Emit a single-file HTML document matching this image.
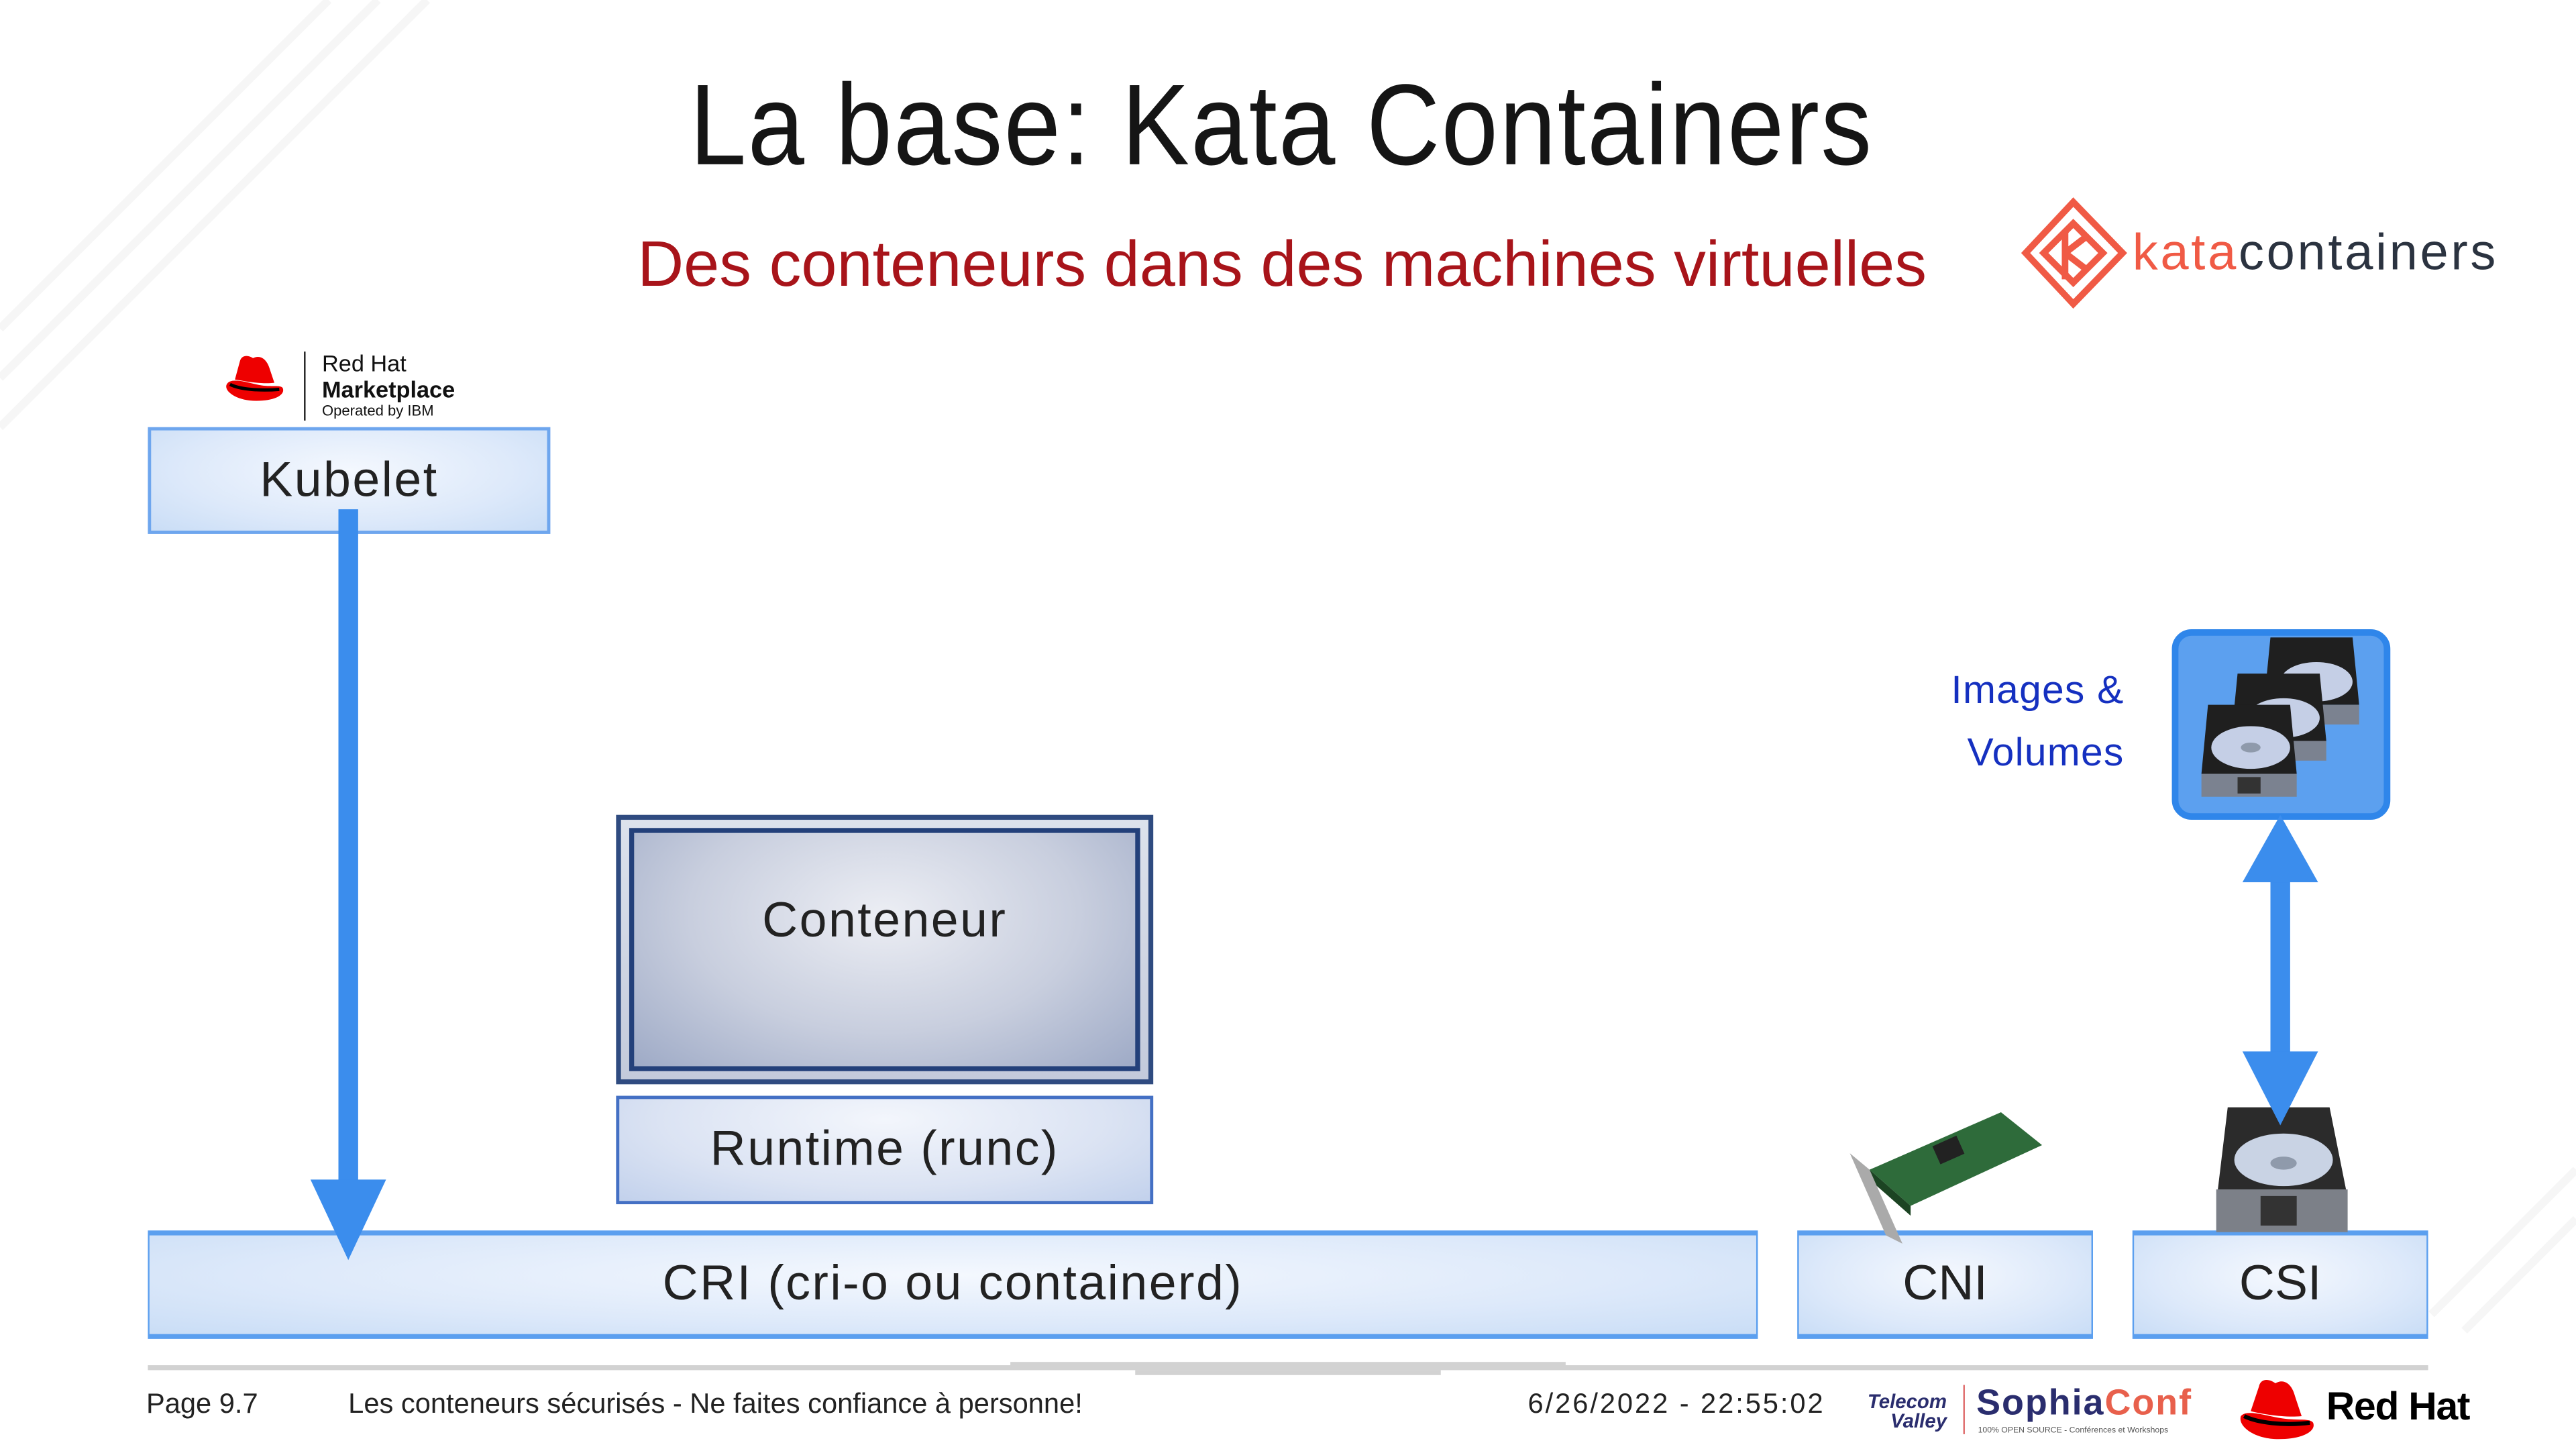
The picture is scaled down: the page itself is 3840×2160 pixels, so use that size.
<!DOCTYPE html>
<html><head><meta charset="utf-8"><style>
html,body{margin:0;padding:0;background:#fff;}
body{width:3840px;height:2160px;overflow:hidden;position:relative;}
#s{position:absolute;left:0;top:0;width:1568px;height:882px;transform:scale(2.44898);transform-origin:0 0;font-family:"Liberation Sans",sans-serif;}
.a{position:absolute;box-sizing:border-box;}
.box{display:flex;align-items:center;justify-content:center;color:#222;}
.lb{background:radial-gradient(ellipse at 50% 40%,#f4f8fe 0%,#dde9fa 60%,#c9ddf6 100%);}
</style></head><body><div id="s">

<!-- faint background stripes -->
<svg class="a" style="left:0;top:0" width="1568" height="882">
 <g stroke="#f6f6f6" stroke-width="5" fill="none">
  <path d="M0 200 L200 0 M0 230 L230 0 M0 260 L260 0"/>
  <path d="M1480 800 L1568 712 M1500 810 L1568 742"/>
 </g>
</svg>

<div class="a" style="left:0;top:36px;width:1568px;text-align:center;font-size:70px;color:#151515;letter-spacing:1px;">
 <span style="display:inline-block;transform:scaleX(0.885);position:relative;left:-4px">La base: Kata Containers</span></div>
<div class="a" style="left:388px;top:140px;font-size:39px;color:#a8141a;white-space:nowrap;">Des conteneurs dans des machines virtuelles</div>

<!-- kata logo -->
<svg class="a" style="left:1230px;top:120px" width="70" height="70" viewBox="0 0 70 70">
 <g fill="none" stroke="#f05a45" stroke-width="4">
  <path d="M32 3 L62 34 L32 65 L3 34 Z"/><path d="M32 16 L50 34 L32 52 L14 34 Z"/>
  <path d="M27 20 L27 50 M27 34 L40 24 M27 34 L40 44"/>
 </g>
</svg>
<div class="a" style="left:1298px;top:136px;font-size:31px;letter-spacing:1.5px;white-space:nowrap;"><span style="color:#f05a45">kata</span><span style="color:#2b3340">containers</span></div>

<!-- Red Hat marketplace -->
<svg class="a" style="left:134px;top:214px" width="42" height="32" viewBox="0 0 42 32">
 <path d="M4 20 C2 24 10 30 22 30 C34 30 40 26 38 22 C36 20 30 22 22 20 C14 18 6 16 4 20Z" fill="#e00"/>
 <path d="M9 17 L12 6 C13 2 17 2 20 4 C24 2 28 4 30 10 L33 19 C25 20 15 18 9 17Z" fill="#e00"/>
 <path d="M6 20 C12 23 24 24 36 23" stroke="#000" stroke-width="2" fill="none"/>
</svg>
<div class="a" style="left:185px;top:214px;width:1px;height:42px;background:#222"></div>
<div class="a" style="left:196px;top:213px;font-size:14px;line-height:16px;color:#111;white-space:nowrap;">Red Hat<br><b style="font-size:14px">Marketplace</b><br><span style="font-size:9px;line-height:10px;display:block">Operated by IBM</span></div>

<!-- Kubelet -->
<div class="a box lb" style="left:90px;top:260px;width:245px;height:65px;border:2px solid #6ea6ee;font-size:30px;letter-spacing:1px;">Kubelet</div>

<!-- Conteneur -->
<div class="a" style="left:375px;top:496px;width:327px;height:164px;border:3px solid #2f4b80;background:linear-gradient(#dde2ec,#c3cadb);"></div>
<div class="a box" style="left:383px;top:504px;width:311px;height:148px;border:3px solid #23407a;background:radial-gradient(ellipse at 50% 35%,#eceef4 0%,#c8cede 55%,#9eaac6 100%);font-size:30px;letter-spacing:1px;padding-bottom:34px;">Conteneur</div>

<!-- Runtime -->
<div class="a box" style="left:375px;top:667px;width:327px;height:66px;border:2px solid #4470c4;background:radial-gradient(ellipse at 50% 20%,#f3f6fc 0%,#dbe3f3 60%,#c2d1ec 100%);font-size:30px;letter-spacing:1px;">Runtime (runc)</div>

<!-- CRI / CNI / CSI -->
<div class="a box lb" style="left:90px;top:749px;width:980px;height:66px;border:1px solid #5b9fef;border-top-width:3px;border-bottom-width:3px;font-size:30px;letter-spacing:1px;">CRI (cri-o ou containerd)</div>
<div class="a box lb" style="left:1094px;top:749px;width:180px;height:66px;border:1px solid #5b9fef;border-top-width:3px;border-bottom-width:3px;font-size:30px;">CNI</div>
<div class="a box lb" style="left:1298px;top:749px;width:180px;height:66px;border:1px solid #5b9fef;border-top-width:3px;border-bottom-width:3px;font-size:30px;">CSI</div>

<!-- NIC -->
<svg class="a" style="left:1118px;top:672px" width="130" height="90" viewBox="0 0 130 90">
 <path d="M20 40 L100 5 L125 25 L45 62 Z" fill="#2e6b3a"/>
 <path d="M20 40 L45 62 L45 68 L20 46 Z" fill="#1c4423"/>
 <rect x="60" y="22" width="16" height="12" fill="#222" transform="rotate(-24 68 28)"/>
 <path d="M8 30 L20 40 L40 85 L30 80 Z" fill="#aaa"/>
</svg>
<!-- single disk -->
<svg class="a" style="left:1346px;top:672px" width="86" height="80" viewBox="0 0 86 80">
 <path d="M10 2 L72 2 L82 52 L4 52 Z" fill="#2b2b2b"/>
 <ellipse cx="44" cy="34" rx="30" ry="16" fill="#c9d3e4"/>
 <ellipse cx="44" cy="36" rx="8" ry="4" fill="#8f9aab"/>
 <path d="M3 52 L83 52 L83 78 L3 78 Z" fill="#7c8088"/>
 <rect x="30" y="56" width="22" height="18" fill="#333"/>
</svg>

<!-- Images & Volumes -->
<div class="a" style="left:1150px;top:402px;width:143px;text-align:right;font-size:24px;line-height:38px;color:#1530c0;letter-spacing:0.5px;">Images &amp;<br>Volumes</div>
<div class="a" style="left:1322px;top:383px;width:133px;height:116px;border:4px solid #2f86ea;border-radius:12px;background:#5ca0ef;"></div>
<svg class="a" style="left:1336px;top:385px" width="110" height="105" viewBox="0 0 110 105">
 <path d="M46 3 L96 3 L100 44 L42 44 Z" fill="#1f1f1f"/>
 <ellipse cx="74" cy="30" rx="22" ry="12" fill="#c5cfe6"/>
 <path d="M42 44 L100 44 L100 56 L42 56 Z" fill="#7b8290"/>
 <path d="M26 25 L76 25 L80 66 L22 66 Z" fill="#1f1f1f"/>
 <ellipse cx="54" cy="52" rx="22" ry="12" fill="#c5cfe6"/>
 <path d="M22 66 L80 66 L80 78 L22 78 Z" fill="#7b8290"/>
 <path d="M8 44 L58 44 L62 86 L4 86 Z" fill="#1f1f1f"/>
 <ellipse cx="34" cy="70" rx="24" ry="13" fill="#c5cfe6"/>
 <ellipse cx="34" cy="70" rx="6" ry="3" fill="#8f9aab"/>
 <path d="M4 86 L62 86 L62 100 L4 100 Z" fill="#7b8290"/>
 <rect x="26" y="88" width="14" height="10" fill="#333"/>
</svg>

<!-- arrows (on top) -->
<svg class="a" style="left:0;top:0" width="1568" height="882">
 <rect x="206" y="310" width="12" height="415" fill="#3b8ded"/>
 <path d="M189 718 L235 718 L212 767 Z" fill="#3b8ded"/>
 <rect x="1382" y="530" width="12" height="124" fill="#3b8ded"/>
 <path d="M1365 537 L1411 537 L1388 496 Z" fill="#3b8ded"/>
 <path d="M1365 640 L1411 640 L1388 685 Z" fill="#3b8ded"/>
</svg>

<!-- footer -->
<div class="a" style="left:90px;top:831px;width:1388px;height:3px;background:#d2d2d2"></div>
<div class="a" style="left:615px;top:829px;width:338px;height:3px;background:#d2d2d2"></div>
<div class="a" style="left:691px;top:834px;width:186px;height:3px;background:#d2d2d2"></div>
<div class="a" style="left:89px;top:845px;font-size:17px;color:#222;white-space:nowrap;">Page 9.7</div>
<div class="a" style="left:212px;top:845px;font-size:17px;color:#222;white-space:nowrap;">Les conteneurs sécurisés - Ne faites confiance à personne!</div>
<div class="a" style="left:930px;top:845px;font-size:17px;color:#222;white-space:nowrap;letter-spacing:1.2px;">6/26/2022 - 22:55:02</div>
<div class="a" style="left:1121px;top:847px;font-size:12px;line-height:12px;font-style:italic;font-weight:bold;color:#2a2d6e;text-align:right;width:64px;">Telecom<br>Valley</div>
<div class="a" style="left:1195px;top:843px;width:1px;height:30px;background:#e07070"></div>
<div class="a" style="left:1203px;top:841px;font-size:22px;font-weight:bold;white-space:nowrap;letter-spacing:0.8px;"><span style="color:#2a2d6e">Sophia</span><span style="color:#e8604c">Conf</span></div>
<div class="a" style="left:1204px;top:868px;font-size:5px;color:#555;white-space:nowrap;">100% OPEN SOURCE - Conférences et Workshops</div>
<svg class="a" style="left:1360px;top:838px" width="52" height="40" viewBox="0 0 52 40">
 <path d="M4 24 C2 30 12 38 27 38 C42 38 50 33 48 28 C46 25 38 27 27 25 C17 23 7 20 4 24Z" fill="#e00"/>
 <path d="M10 21 L15 6 C16 1 21 1 25 4 C30 1 35 4 37 12 L41 24 C31 25 18 23 10 21Z" fill="#e00"/>
 <path d="M6 24 C14 28 30 30 46 28" stroke="#000" stroke-width="2.5" fill="none"/>
</svg>
<div class="a" style="left:1416px;top:843px;font-size:24px;font-weight:bold;color:#000;white-space:nowrap;letter-spacing:-0.5px;">Red Hat</div>

</div></body></html>
